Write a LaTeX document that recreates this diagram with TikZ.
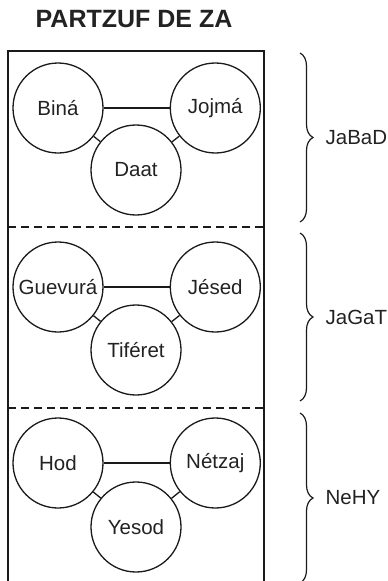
\documentclass[tikz,border=0pt]{standalone}
\usepackage{fontspec}
\setmainfont{Liberation Sans}
\usetikzlibrary{positioning, decorations.pathreplacing}

\begin{document}
\begin{tikzpicture}[
    x=1pt, y=-1pt,
    line width=1.3pt,
    node distance=66pt,
    sefira/.style={circle, draw=linecol, minimum size=90pt, inner sep=0pt,
        font=\fontsize{20.5}{24}\selectfont, text=textcol},
    llave/.style={decorate, decoration={brace, amplitude=13pt}, line width=1.2pt, draw=linecol},
    grupo/.style={font=\fontsize{20.5}{24}\selectfont, text=textcol, inner sep=0pt},
]

% ── Colors ──
\definecolor{linecol}{HTML}{1A1A1A}
\definecolor{textcol}{HTML}{222222}

\useasboundingbox (0,0) rectangle (388,581);

% ══════════════════════════════════════════════
% Title and frame
% ══════════════════════════════════════════════
\node[font=\bfseries\fontsize{25}{30}\selectfont, text=textcol] (titulo) at (134,19) {PARTZUF DE ZA};

\coordinate (fbl) at (8,581);
\coordinate (ftl) at (8,51);
\coordinate (ftr) at (264,51);
\coordinate (fbr) at (264,581);
\draw[linecol] (fbl) -- (ftl) -- (ftr) -- (fbr);

\draw[linecol, dashed, dash pattern=on 8pt off 5pt] (8,227) -- (264,227);
\draw[linecol, dashed, dash pattern=on 8pt off 5pt] (8,408) -- (264,408);

% ══════════════════════════════════════════════
% Upper third: JaBaD
% ══════════════════════════════════════════════
\node[sefira] (bina) at (58,108) {Biná};
\node[sefira, right=of bina] (jojma) {Jojmá};
\node[sefira] (daat) at (136,170) {Daat};
\draw[linecol] (bina) -- (jojma);
\draw[linecol] (bina) -- (daat);
\draw[linecol] (jojma) -- (daat);

% ══════════════════════════════════════════════
% Middle third: JaGaT
% ══════════════════════════════════════════════
\node[sefira] (guevura) at (58,287) {Guevurá};
\node[sefira, right=of guevura] (jesed) {Jésed};
\node[sefira] (tiferet) at (136,350) {Tiféret};
\draw[linecol] (guevura) -- (jesed);
\draw[linecol] (guevura) -- (tiferet);
\draw[linecol] (jesed) -- (tiferet);

% ══════════════════════════════════════════════
% Lower third: NeHY
% ══════════════════════════════════════════════
\node[sefira] (hod) at (58,463) {Hod};
\node[sefira, right=of hod] (netzaj) {Nétzaj};
\node[sefira] (yesod) at (136,527) {Yesod};
\draw[linecol] (hod) -- (netzaj);
\draw[linecol] (hod) -- (yesod);
\draw[linecol] (netzaj) -- (yesod);

% ══════════════════════════════════════════════
% Braces with group names
% ══════════════════════════════════════════════
\draw[llave] (300,53) -- (300,222)
    node[grupo, midway, right=25pt] (jabad) {JaBaD};
\draw[llave] (300,233) -- (300,401)
    node[grupo, midway, right=25pt] (jagat) {JaGaT};
\draw[llave] (300,413) -- (300,583)
    node[grupo, midway, right=25pt] (nehy) {NeHY};

\end{tikzpicture}
\end{document}
